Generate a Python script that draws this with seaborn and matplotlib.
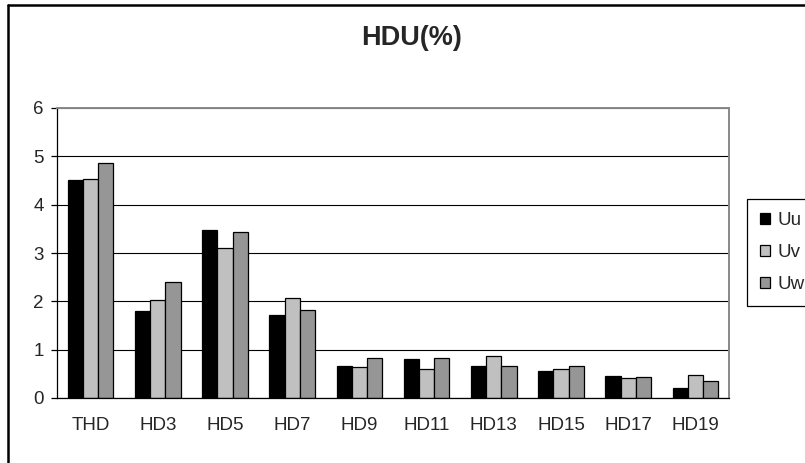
import numpy as np
import pandas as pd
import matplotlib
matplotlib.use('Agg')
import matplotlib.pyplot as plt
from matplotlib.lines import Line2D
import seaborn as sns

# data ==============================================================================
categories = ['THD', 'HD3', 'HD5', 'HD7', 'HD9', 'HD11', 'HD13', 'HD15', 'HD17', 'HD19']
uu = [4.52, 1.79, 3.47, 1.72, 0.66, 0.80, 0.66, 0.56, 0.45, 0.21]
uv = [4.54, 2.03, 3.11, 2.07, 0.65, 0.59, 0.87, 0.59, 0.41, 0.48]
uw = [4.86, 2.41, 3.43, 1.82, 0.83, 0.83, 0.66, 0.66, 0.44, 0.35]
series_names = ['Uu', 'Uv', 'Uw']
y_ticks = [0, 1, 2, 3, 4, 5, 6]

df = pd.DataFrame({'harm': categories * 3,
                   'phase': np.repeat(series_names, len(categories)),
                   'val': uu + uv + uw})

# style =============================================================================
sns.set_style('white')
plt.rcParams['font.family'] = ['Liberation Sans', 'DejaVu Sans']

fig = plt.figure(figsize=(8.05, 4.63), dpi=100)
ax = fig.add_axes([57/805, 65/463, 672/805, 290/463])

sns.barplot(data=df, x='harm', y='val', hue='phase', order=categories,
            hue_order=series_names, palette=['#000000', '#C0C0C0', '#969696'],
            width=0.68, edgecolor='black', linewidth=0.9, saturation=1, ax=ax)

ax.set_xlim(-0.5, len(categories) - 0.5)
ax.set_ylim(0, 6)
ax.set_yticks(y_ticks)
ax.set_xlabel('')
ax.set_ylabel('')

# gridlines behind bars
ax.set_axisbelow(True)
ax.yaxis.grid(True, color='black', linewidth=0.8)
ax.xaxis.grid(False)

# ticks: labels centred, tick marks on category boundaries
ax.set_xticks(np.arange(len(categories)))
ax.set_xticklabels(categories)
ax.set_xticks(np.arange(len(categories) + 1) - 0.5, minor=True)
ax.tick_params(axis='x', which='major', length=0, pad=14, labelsize=13.5)
ax.tick_params(axis='x', which='minor', length=5, width=0.9, color='black', direction='out')
ax.tick_params(axis='y', length=4.5, width=0.9, color='black', direction='out', pad=5, labelsize=13.5, left=True)

for s in ['left', 'bottom']:
    ax.spines[s].set_color('black')
    ax.spines[s].set_linewidth(0.9)
for s in ['top', 'right']:
    ax.spines[s].set_color('#888888')
    ax.spines[s].set_linewidth(1.4)

fig.text(412/805, 1 - 38/463, 'HDU(%)', ha='center', va='center',
         fontsize=19.5, fontweight='bold')

# legend
handles, labels = ax.get_legend_handles_labels()
ax.legend_.remove()
leg = fig.legend(handles, labels, loc='upper left', bbox_to_anchor=(747/805, 1 - 199/463),
                 fontsize=13.5, frameon=True, fancybox=False, shadow=False, framealpha=1,
                 handlelength=0.5, handleheight=0.5, handletextpad=0.45,
                 labelspacing=0.8, borderpad=0.7, borderaxespad=0)
leg.get_frame().set_edgecolor('black')
leg.get_frame().set_linewidth(0.9)

# outer chart border (cropped on right and bottom)
fig.add_artist(Line2D([8/805, 1], [1 - 5/463, 1 - 5/463], color='black', linewidth=1.8))
fig.add_artist(Line2D([8/805, 8/805], [0, 1 - 5/463], color='black', linewidth=1.8))

fig.savefig('out.png', dpi=100)
